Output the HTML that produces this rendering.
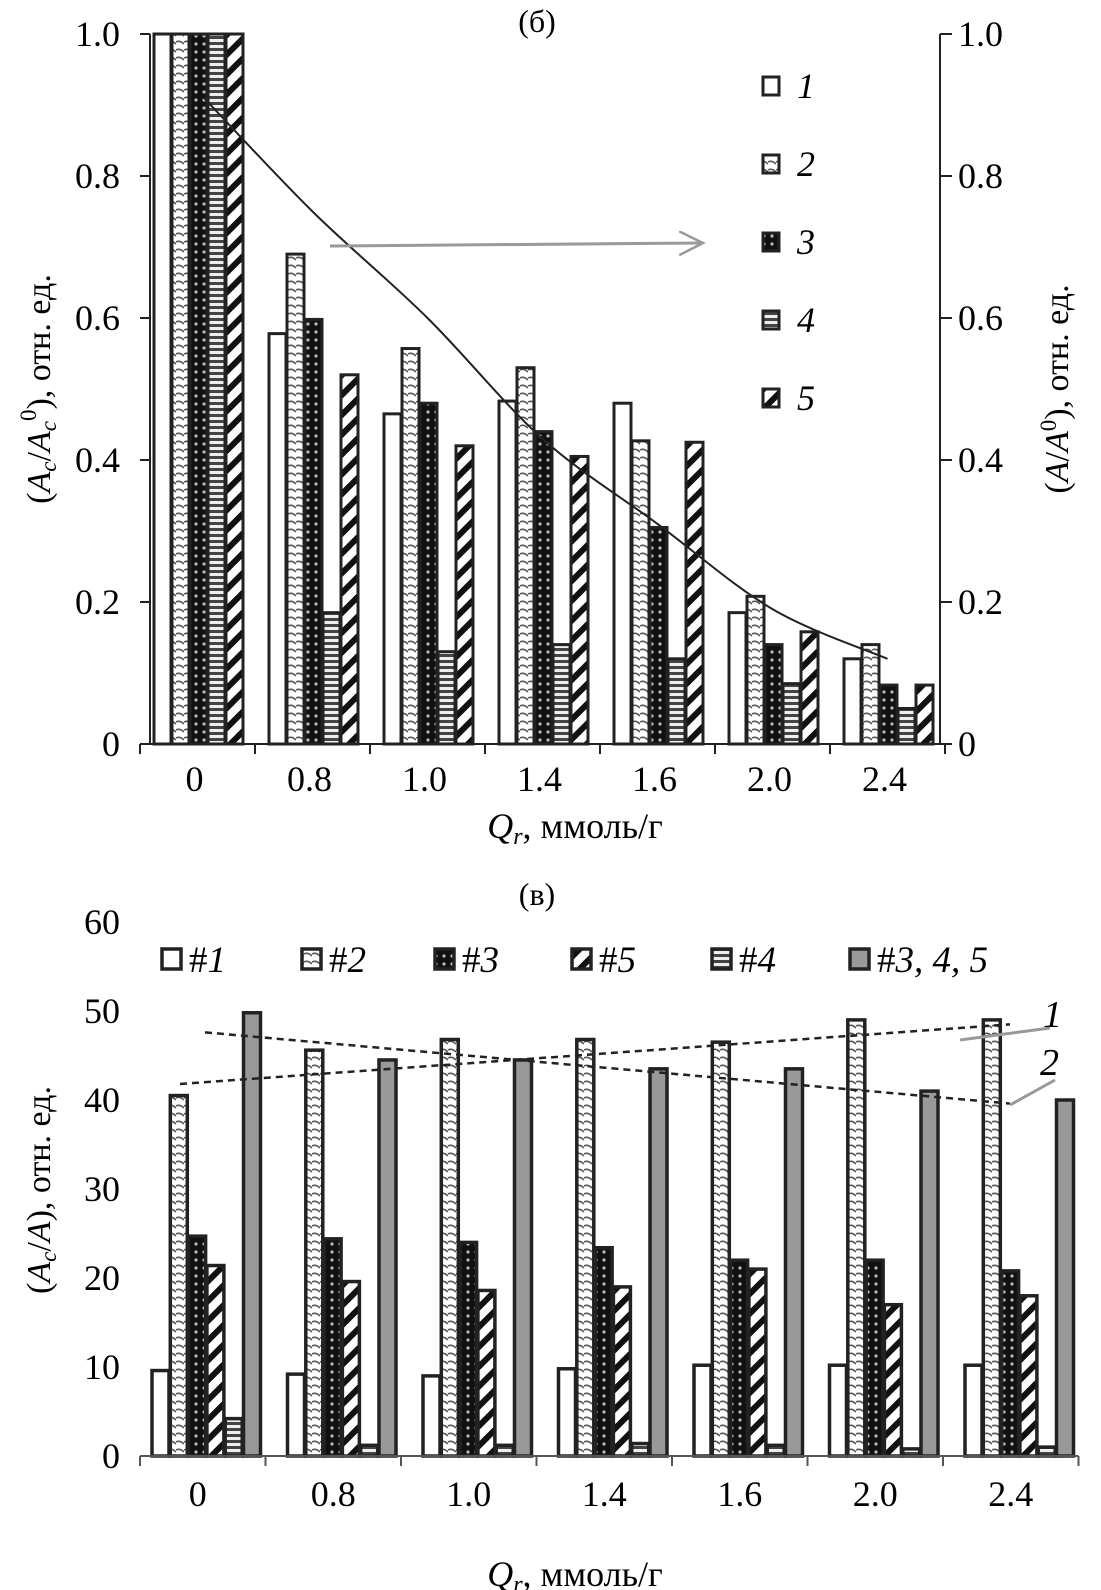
<!DOCTYPE html>
<html><head><meta charset="utf-8"><style>
html,body{margin:0;padding:0;background:#fff}
svg{display:block;font-family:"Liberation Serif",serif}
</style></head><body>
<svg id="fig" width="1101" height="1590" viewBox="0 0 1101 1590" xmlns="http://www.w3.org/2000/svg">
<defs>
<pattern id="p2" width="8" height="8" patternUnits="userSpaceOnUse"><rect width="8" height="8" fill="#fff"/><path d="M0,2 Q4,0 8,4" stroke="#555" stroke-width="1.6" fill="none"/></pattern>
<pattern id="p3" width="8" height="8" patternUnits="userSpaceOnUse"><rect width="8" height="8" fill="#111"/><circle cx="4" cy="4" r="1.6" fill="#bbb"/></pattern>
<pattern id="p4" width="6" height="6" patternUnits="userSpaceOnUse"><rect width="6" height="6" fill="#eee"/><rect y="0" width="6" height="3" fill="#444"/></pattern>
<pattern id="p5" width="14" height="14" patternUnits="userSpaceOnUse" patternTransform="rotate(45)"><rect width="14" height="14" fill="#fff"/><rect width="6" height="14" fill="#111"/></pattern>
<marker id="arr" markerWidth="28" markerHeight="28" refX="24" refY="12" orient="auto" markerUnits="userSpaceOnUse"><path d="M0,0 L24,12 L0,24" fill="none" stroke="#999" stroke-width="2.5"/></marker>
</defs>
<g id="top"></g>
<g id="bot"></g>
</svg>
<script>
// ---- top chart data ----
const topCats = ["0","0.8","1.0","1.4","1.6","2.0","2.4"];
const topS1 = [1.0,0.578,0.465,0.483,0.48,0.185,0.12];
const topS2 = [1.0,0.69,0.557,0.53,0.427,0.208,0.14];
const topS3 = [1.0,0.598,0.48,0.44,0.305,0.14,0.083];
const topS4 = [1.0,0.185,0.13,0.14,0.12,0.085,0.05];
const topS5 = [1.0,0.52,0.42,0.405,0.425,0.158,0.083];
const topCurve = [0.91,0.75,0.6,0.43,0.31,0.19,0.12];
const topTicks = [0,0.2,0.4,0.6,0.8,1.0];
const topTickLabels = ["0","0.2","0.4","0.6","0.8","1.0"];
// ---- bottom chart data ----
const botCats = ["0","0.8","1.0","1.4","1.6","2.0","2.4"];
const botS1 = [9.6,9.2,9.0,9.8,10.2,10.2,10.2];
const botS2 = [40.5,45.6,46.8,46.8,46.5,49,49];
const botS3 = [24.7,24.4,24,23.4,22,22,20.8];
const botS5 = [21.4,19.6,18.6,19,21,17,18];
const botS4 = [4.2,1.2,1.2,1.4,1.2,0.8,1];
const botS345 = [49.8,44.5,44.5,43.5,43.5,41,40];
const botTrend1 = [41.8,48.5];
const botTrend2 = [47.6,39.6];
const botTicks = [0,10,20,30,40,50,60];

const NS="http://www.w3.org/2000/svg";
function mk(parent,tag,attrs,text){const e=document.createElementNS(NS,tag);for(const k in attrs)e.setAttribute(k,attrs[k]);if(text!==undefined)e.textContent=text;parent.appendChild(e);return e;}
const FS=36;

// ===== TOP =====
const T=document.getElementById('top');
const tX0=140,tGW=115,tY0=744,tY1=34;
const tyv=v=>tY0-v*(tY0-tY1);
const tgx=i=>tX0+i*tGW;
const topSeries=[topS1,topS2,topS3,topS4,topS5];
const topFills=["#fff","url(#p2)","url(#p3)","url(#p4)","url(#p5)"];
let e;
e=mk(T,'text',{x:537,y:32,'font-size':32,'text-anchor':'middle'},'(б)');

topSeries.forEach((s,si)=>{s.forEach((v,i)=>{
  const x=tgx(i)+14+si*18;
  const r=mk(T,'rect',{x:x,y:tyv(v),width:17,height:tY0-tyv(v),fill:topFills[si],stroke:'#222','stroke-width':3});
  
  
});});
e=mk(T,'line',{x1:150,y1:tY1,x2:150,y2:tY0,stroke:'#222','stroke-width':2});

e=mk(T,'line',{x1:940,y1:tY1,x2:940,y2:tY0,stroke:'#222','stroke-width':2});

e=mk(T,'line',{x1:tX0,y1:tY0,x2:tX0+7*tGW,y2:tY0,stroke:'#222','stroke-width':2});

topTicks.forEach((t,i)=>{
  mk(T,'line',{x1:140,y1:tyv(t),x2:150,y2:tyv(t),stroke:'#222','stroke-width':2});
  mk(T,'line',{x1:940,y1:tyv(t),x2:952,y2:tyv(t),stroke:'#222','stroke-width':2});
  e=mk(T,'text',{x:120,y:tyv(t)+12,'font-size':FS,'text-anchor':'end'},topTickLabels[i]);
  
  e=mk(T,'text',{x:958,y:tyv(t)+12,'font-size':FS},topTickLabels[i]);
  
});
topCats.forEach((c,i)=>{
  mk(T,'line',{x1:tgx(i),y1:tY0,x2:tgx(i),y2:tY0+10,stroke:'#222','stroke-width':2});
  e=mk(T,'text',{x:tgx(i)+tGW/2-3,y:791,'font-size':FS,'text-anchor':'middle'},c);
  
});
mk(T,'line',{x1:tgx(7),y1:tY0,x2:tgx(7),y2:tY0+10,stroke:'#222','stroke-width':2});
// smooth curve (Catmull-Rom)
let pts=topCurve.map((v,i)=>[i===0?tgx(0)+64:tgx(i)+tGW/2,tyv(v)]);
let d='M'+pts[0][0]+','+pts[0][1];
for(let i=0;i<pts.length-1;i++){
  const p0=pts[Math.max(i-1,0)],p1=pts[i],p2=pts[i+1],p3=pts[Math.min(i+2,pts.length-1)];
  const c1=[p1[0]+(p2[0]-p0[0])/6,p1[1]+(p2[1]-p0[1])/6];
  const c2=[p2[0]-(p3[0]-p1[0])/6,p2[1]-(p3[1]-p1[1])/6];
  d+=` C${c1[0]},${c1[1]} ${c2[0]},${c2[1]} ${p2[0]},${p2[1]}`;
}
e=mk(T,'path',{d:d,fill:'none',stroke:'#222','stroke-width':2});

e=mk(T,'line',{x1:330,y1:246,x2:703,y2:243,stroke:'#999','stroke-width':3,'marker-end':'url(#arr)'});

["1","2","3","4","5"].forEach((l,i)=>{
  const y=86+i*78;
  e=mk(T,'rect',{x:763,y:y-9,width:16,height:18,fill:topFills[i],stroke:'#222','stroke-width':3});
  
  e=mk(T,'text',{x:797,y:y+12,'font-size':36,'font-style':'italic'},l);
  
});
e=mk(T,'text',{x:575,y:838,'font-size':FS,'text-anchor':'middle'});
e.innerHTML='<tspan font-style="italic">Q</tspan><tspan font-style="italic" font-size="24" dy="6">r</tspan><tspan dy="-6">, ммоль/г</tspan>';

e=mk(T,'text',{x:0,y:0,'font-size':34,'text-anchor':'middle',transform:'translate(50,389) rotate(-90)'});
e.innerHTML='(<tspan font-style="italic">A</tspan><tspan font-style="italic" font-size="23" dy="6">c</tspan><tspan dy="-6">/</tspan><tspan font-style="italic">A</tspan><tspan font-style="italic" font-size="23" dy="6">c</tspan><tspan font-size="23" dy="-20">0</tspan><tspan dy="14">), отн. ед.</tspan>';

e=mk(T,'text',{x:0,y:0,'font-size':34,'text-anchor':'middle',transform:'translate(1068,389) rotate(-90)'});
e.innerHTML='(<tspan font-style="italic">A</tspan>/<tspan font-style="italic">A</tspan><tspan font-size="23" dy="-12">0</tspan><tspan dy="12">), отн. ед.</tspan>';


// ===== BOTTOM =====
const B=document.getElementById('bot');
const bX0=130,bGW=135.5,bY0=1456,bY60=922;
const byv=v=>bY0-v*(bY0-bY60)/60;
const bgx=i=>bX0+i*bGW;
e=mk(B,'text',{x:537,y:905,'font-size':32,'text-anchor':'middle'},'(в)');

const botSeries=[botS1,botS2,botS3,botS5,botS4,botS345];
const botFills=["#fff","url(#p2)","url(#p3)","url(#p5)","url(#p4)","#999"];
const botNames=["1","2","3","5","4","345"];
botSeries.forEach((s,si)=>{s.forEach((v,i)=>{
  const x=bgx(i)+22+si*18.3;
  const r=mk(B,'rect',{x:x,y:byv(v),width:17,height:bY0-byv(v),fill:botFills[si],stroke:'#222','stroke-width':3.5});
  
  
});});
e=mk(B,'line',{x1:bX0+10,y1:bY0,x2:bgx(7),y2:bY0,stroke:'#555','stroke-width':2});

botTicks.forEach(t=>{
  e=mk(B,'text',{x:120,y:byv(t)+12,'font-size':FS,'text-anchor':'end'},String(t));
  
});
botCats.forEach((c,i)=>{
  mk(B,'line',{x1:bgx(i)+(i===0?10:0),y1:bY0,x2:bgx(i)+(i===0?10:0),y2:bY0+10,stroke:'#555','stroke-width':2});
  e=mk(B,'text',{x:bgx(i)+bGW/2,y:1506,'font-size':FS,'text-anchor':'middle'},c);
  
});
mk(B,'line',{x1:bgx(7),y1:bY0,x2:bgx(7),y2:bY0+10,stroke:'#555','stroke-width':2});
e=mk(B,'line',{x1:180,y1:byv(botTrend1[0]),x2:1010,y2:byv(botTrend1[1]),stroke:'#222','stroke-width':2.5,'stroke-dasharray':'7,5'});

e=mk(B,'line',{x1:205,y1:byv(botTrend2[0]),x2:1010,y2:byv(botTrend2[1]),stroke:'#222','stroke-width':2.5,'stroke-dasharray':'7,5'});

mk(B,'line',{x1:960,y1:1040,x2:1050,y2:1028,stroke:'#999','stroke-width':3});
mk(B,'line',{x1:1010,y1:1105,x2:1055,y2:1080,stroke:'#999','stroke-width':3});
e=mk(B,'text',{x:1043,y:1027,'font-size':38,'font-style':'italic'},'1');

e=mk(B,'text',{x:1040,y:1075,'font-size':38,'font-style':'italic'},'2');

const legX=[162,302,435,572,712,850];
const legL=["#1","#2","#3","#5","#4","#3, 4, 5"];
legX.forEach((x,i)=>{
  e=mk(B,'rect',{x:x,y:949,width:19,height:20,fill:botFills[i],stroke:'#222','stroke-width':3.5});
  
  const t=mk(B,'text',{x:x+27,y:972,'font-size':37});
  t.innerHTML='#<tspan font-style="italic">'+legL[i].slice(1)+'</tspan>';
  
  
});
e=mk(B,'text',{x:575,y:1586,'font-size':FS,'text-anchor':'middle'});
e.innerHTML='<tspan font-style="italic">Q</tspan><tspan font-style="italic" font-size="24" dy="6">r</tspan><tspan dy="-6">, ммоль/г</tspan>';

e=mk(B,'text',{x:0,y:0,'font-size':34,'text-anchor':'middle',transform:'translate(50,1190) rotate(-90)'});
e.innerHTML='(<tspan font-style="italic">A</tspan><tspan font-style="italic" font-size="23" dy="6">c</tspan><tspan dy="-6">/</tspan><tspan font-style="italic">A</tspan>), отн. ед.';

</script>
</body></html>
